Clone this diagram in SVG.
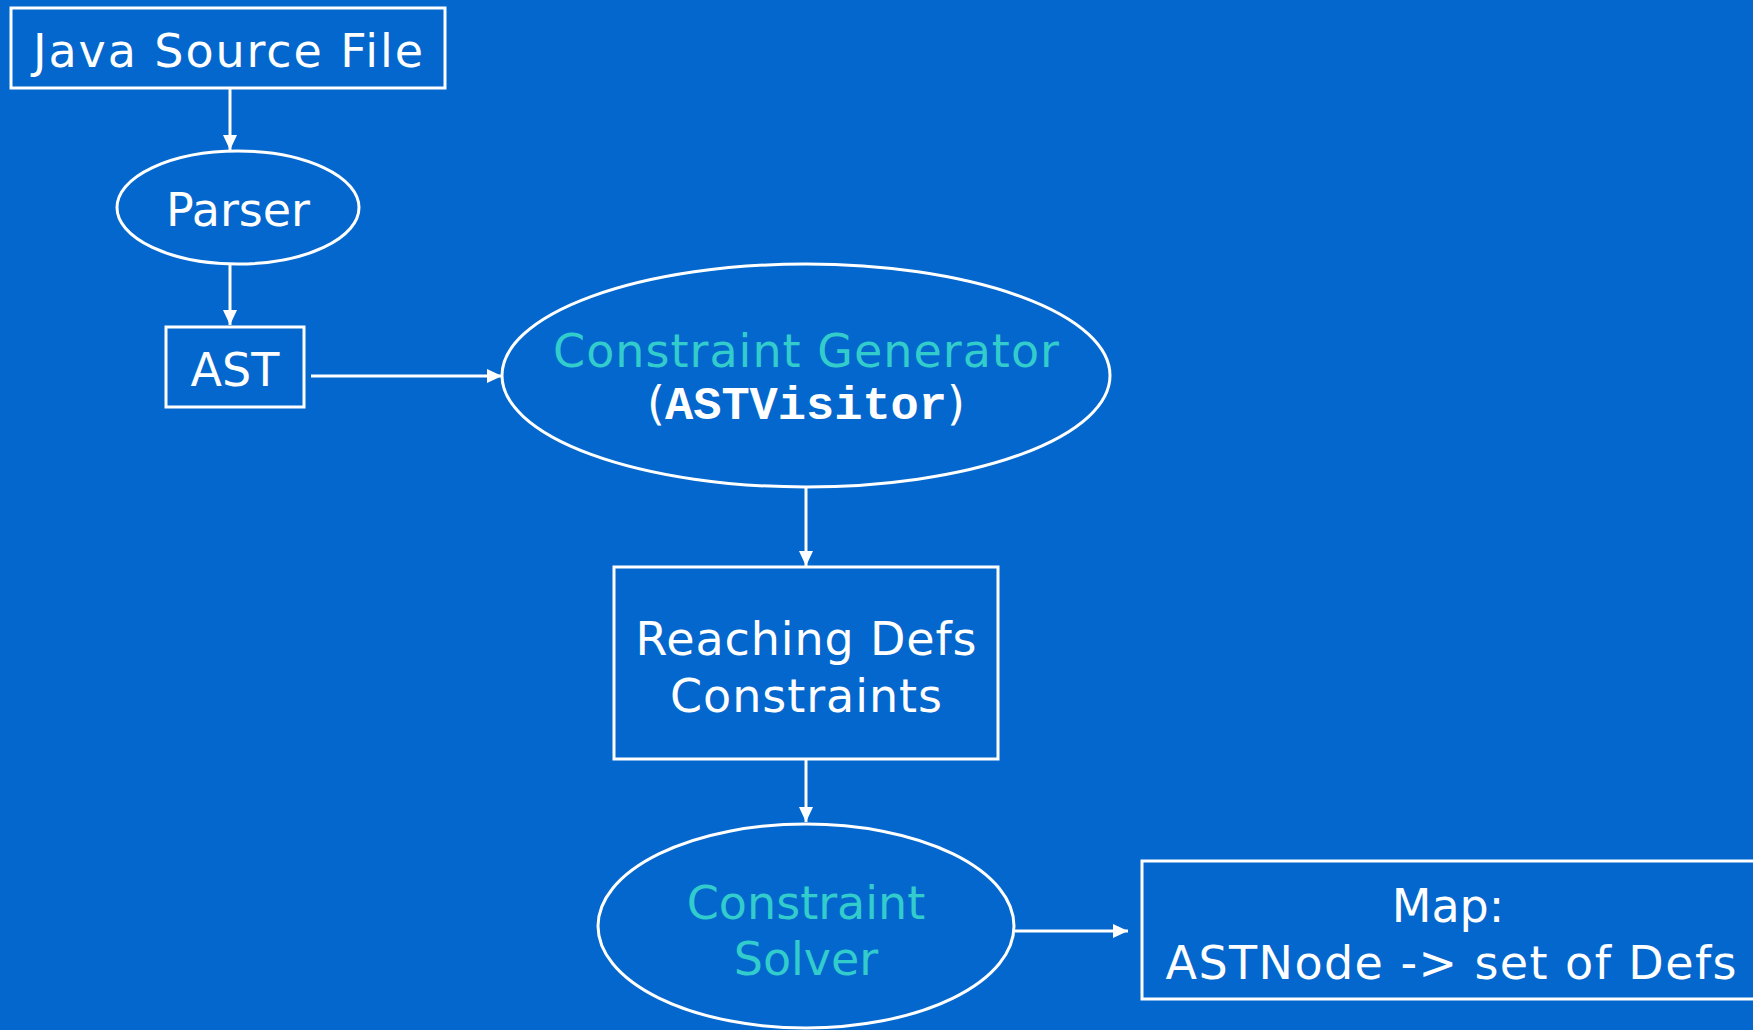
<svg xmlns="http://www.w3.org/2000/svg" width="1753" height="1030" viewBox="0 0 1753 1030">
  <style>
    .box { fill: none; stroke: #ffffff; stroke-width: 3; }
    .edge { fill: none; stroke: #ffffff; stroke-width: 3; }
    .lbl { font-family: "DejaVu Sans", Verdana, sans-serif; font-size: 46px; fill: #ffffff; text-anchor: middle; }
    .teal { fill: #33CCCC; }
    .code { font-family: "Liberation Mono", "Courier New", monospace; font-weight: bold; font-size: 47px; }
  </style>
  <defs>
    <marker id="arrow" markerUnits="userSpaceOnUse" markerWidth="16" markerHeight="14" refX="15" refY="7" orient="auto">
      <path d="M0,0 L15,7 L0,14 Z" fill="#ffffff"/>
    </marker>
  </defs>

  <rect width="1753" height="1030" fill="#0467CD"/>

  <!-- connectors -->
  <g id="connectors">
    <line class="edge" x1="230" y1="89" x2="230" y2="150" marker-end="url(#arrow)"/>
    <line class="edge" x1="230" y1="264" x2="230" y2="325" marker-end="url(#arrow)"/>
    <line class="edge" x1="311" y1="376" x2="502" y2="376" marker-end="url(#arrow)"/>
    <line class="edge" x1="806" y1="488" x2="806" y2="566" marker-end="url(#arrow)"/>
    <line class="edge" x1="806" y1="760" x2="806" y2="822" marker-end="url(#arrow)"/>
    <line class="edge" x1="1015" y1="931" x2="1128" y2="931" marker-end="url(#arrow)"/>
  </g>

  <g id="java-source">
    <rect class="box" x="11" y="8" width="434" height="80"/>
    <text class="lbl" x="228" y="67" textLength="390" lengthAdjust="spacing">Java Source File</text>
  </g>

  <g id="parser">
    <ellipse class="box" cx="238" cy="207.5" rx="121" ry="56.5"/>
    <text class="lbl" x="238" y="226">Parser</text>
  </g>

  <g id="ast">
    <rect class="box" x="166" y="327" width="138" height="80"/>
    <text class="lbl" x="235" y="386">AST</text>
  </g>

  <g id="constraint-generator">
    <ellipse class="box" cx="806" cy="375.5" rx="304" ry="111.5"/>
    <text class="lbl teal" x="806" y="367" textLength="506" lengthAdjust="spacing">Constraint Generator</text>
    <text class="lbl" x="806" y="419">(<tspan class="code">ASTVisitor</tspan>)</text>
  </g>

  <g id="reaching-defs">
    <rect class="box" x="614" y="567" width="384" height="192"/>
    <text class="lbl" x="806" y="655" textLength="341" lengthAdjust="spacing">Reaching Defs</text>
    <text class="lbl" x="806" y="712" textLength="272" lengthAdjust="spacing">Constraints</text>
  </g>

  <g id="constraint-solver">
    <ellipse class="box" cx="806" cy="926" rx="208" ry="102"/>
    <text class="lbl teal" x="806" y="919">Constraint</text>
    <text class="lbl teal" x="806" y="975">Solver</text>
  </g>

  <g id="result-map">
    <rect class="box" x="1142" y="861" width="614" height="138"/>
    <text class="lbl" x="1448" y="922">Map:</text>
    <text class="lbl" x="1451" y="979" textLength="571" lengthAdjust="spacing">ASTNode -&gt; set of Defs</text>
  </g>
</svg>
